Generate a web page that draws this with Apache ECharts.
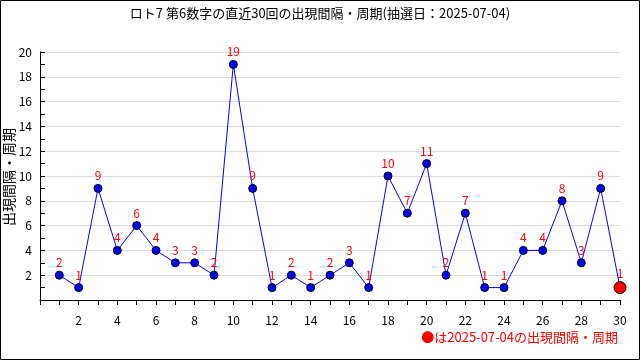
<!DOCTYPE html>
<html><head><meta charset="utf-8">
<script src="https://cdn.jsdelivr.net/npm/echarts@6/dist/echarts.min.js"></script>
<style>html,body{margin:0;padding:0;background:#fff}#c{width:640px;height:360px}</style>
</head><body><div id="c"></div>
<script>
const draws = [1,2,3,4,5,6,7,8,9,10,11,12,13,14,15,16,17,18,19,20,21,22,23,24,25,26,27,28,29,30];
const intervals = [2,1,9,4,6,4,3,3,2,19,9,1,2,1,2,3,1,10,7,11,2,7,1,1,4,4,8,3,9,1];
const titleText = 'ロト7 第6数字の直近30回の出現間隔・周期(抽選日：2025-07-04)';
const yName = '出現間隔・周期';
const noteText = '●は2025-07-04の出現間隔・周期';
const font = '"Noto Sans CJK JP", "DejaVu Sans Mono", monospace';

const chart = echarts.init(document.getElementById('c'), null, {renderer:'canvas'});
const data = draws.map((d,i)=>{
  const last = i === draws.length-1;
  return {value:[d, intervals[i]], symbolSize: last ? 12 : 8,
    itemStyle: {color: last ? '#ff0000' : '#0000ff', borderColor:'#000', borderWidth:1}};
});
chart.setOption({
  animation:false,
  title:{text:titleText, left:'center', top:2, textStyle:{fontFamily:font, fontSize:13, fontWeight:'normal', color:'#000'}},
  graphic:[
    {type:'rect', shape:{x:0.5,y:0.5,width:639,height:359}, style:{fill:null, stroke:'#000', lineWidth:1}, silent:true},
    {type:'text', right:22, top:331, style:{text:noteText, fill:'#ff0000', font:'13px '+font}},
    {type:'text', x:9, y:177, rotation:Math.PI/2, style:{text:yName, fill:'#000', font:'14px '+font, align:'center', verticalAlign:'middle'}}
  ],
  grid:{left:40, right:20, top:52, bottom:60, outerBoundsMode:'none', containLabel:false},
  xAxis:{type:'value', min:0, max:30, interval:2,
    axisLine:{lineStyle:{color:'#000'}},
    axisTick:{show:true, inside:false, length:5, lineStyle:{color:'#000'}},
    minorTick:{show:true, splitNumber:2, length:5, lineStyle:{color:'#000'}},
    axisLabel:{color:'#000', fontFamily:font, fontSize:12, margin:14, formatter:v=> v===0?'':String(v)},
    splitLine:{show:false}},
  yAxis:{type:'value', min:0, max:20, interval:2,
    axisLine:{show:true, lineStyle:{color:'#000'}},
    axisTick:{show:true, inside:true, length:5, lineStyle:{color:'#000'}},
    minorTick:{show:true, splitNumber:2, length:5, lineStyle:{color:'#000'}},
    axisLabel:{color:'#000', fontFamily:font, fontSize:12, margin:8, formatter:v=> v===0?'':String(v)},
    splitLine:{show:true, lineStyle:{color:'#dddddd'}}},
  series:[{type:'line', data:data, symbol:'circle', showAllSymbol:true,
    lineStyle:{color:'#0000ff', width:1},
    label:{show:true, position:'top', distance:2, color:'#ff0000', fontFamily:font, fontSize:12, formatter:p=>p.value[1]}}]
});
</script></body></html>
